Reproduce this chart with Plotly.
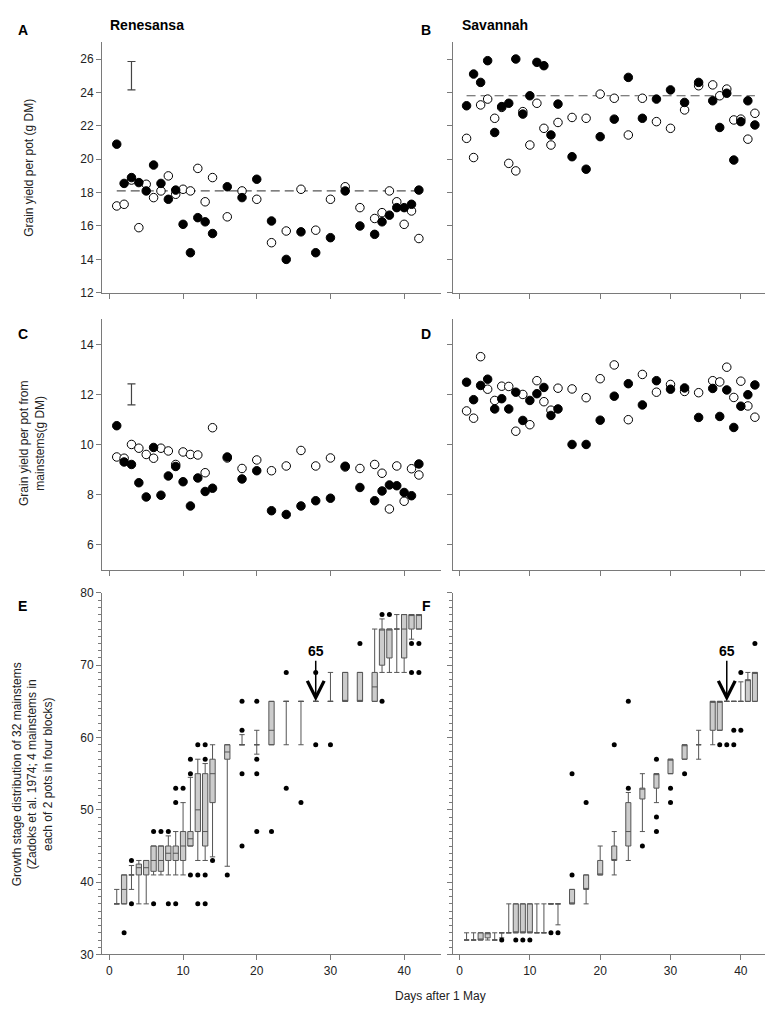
import plotly.graph_objects as go

W, H = 773, 1010
FONT = "Liberation Sans, Arial, sans-serif"

# ---------------- data: panels A-D (grain yield) ----------------
days = [1, 2, 3, 4, 5, 6, 7, 8, 9, 10, 11, 12, 13, 14, 16, 18, 20, 22, 24, 26, 28, 30,
        32, 34, 36, 37, 38, 39, 40, 41, 42]

ren_tot_filled = [20.9, 18.55, 18.9, 18.6, 18.1, 19.65, 18.55, 17.6, 18.15, 16.1, 14.4, 16.5, 16.25,
                  15.55, 18.35, 17.7, 18.8, 16.3, 14.0, 15.65, 14.4, 15.3, 18.1, 16.0, 15.5, 16.25,
                  16.65, 17.1, 17.1, 17.3, 18.15]
ren_tot_open = [17.2, 17.3, 18.75, 15.9, 18.5, 17.7, 18.1, 19.0, 17.9, 18.2, 18.1, 19.45, 17.45,
                18.9, 16.55, 18.1, 17.6, 15.0, 15.7, 18.2, 15.75, 17.6, 18.35, 17.1, 16.45, 16.8,
                18.1, 17.45, 16.1, 16.9, 15.25]
sav_tot_filled = [23.2, 25.1, 24.6, 25.9, 21.6, 23.15, 23.35, 26.0, 22.7, 23.8, 25.8, 25.6, 21.45,
                  23.3, 20.15, 19.4, 21.35, 22.4, 24.9, 22.45, 23.6, 24.15, 23.4, 24.6, 23.5, 21.9,
                  23.95, 19.95, 22.25, 23.5, 22.05]
sav_tot_open = [21.25, 20.1, 23.25, 23.6, 22.45, 23.1, 19.75, 19.3, 22.85, 20.85, 23.35, 21.85, 20.85,
                22.2, 22.5, 22.45, 23.9, 23.65, 21.45, 23.65, 22.25, 21.85, 22.95, 24.4, 24.45, 23.8,
                24.2, 22.35, 22.4, 21.2, 22.75]
ren_ms_filled = [10.75, 9.3, 9.2, 8.47, 7.9, 9.88, 7.97, 8.74, 9.12, 8.51, 7.54, 8.66, 8.12, 8.25,
                 9.5, 8.62, 8.95, 7.35, 7.2, 7.54, 7.75, 7.85, 9.13, 8.28, 7.75, 8.14, 8.38, 8.35,
                 8.08, 7.95, 9.22]
ren_ms_open = [9.5, 9.45, 10.0, 9.85, 9.6, 9.45, 9.85, 9.74, 9.2, 9.7, 9.6, 9.58, 8.87, 10.67, 9.46,
               9.04, 9.38, 8.95, 9.14, 9.76, 9.14, 9.46, 9.1, 9.04, 9.2, 8.85, 7.42, 9.14, 7.73,
               9.03, 8.78]
sav_ms_filled = [12.49, 11.79, 12.36, 12.61, 11.42, 11.83, 11.42, 12.09, 10.96, 11.76, 12.03, 12.28,
                 11.16, 11.42, 10.0, 10.0, 10.97, 11.93, 12.43, 11.58, 12.55, 12.21, 12.26, 11.08,
                 12.24, 11.12, 12.18, 10.68, 11.53, 11.99, 12.38]
sav_ms_open = [11.34, 11.05, 13.51, 12.21, 11.76, 12.33, 12.32, 10.53, 12.0, 10.79, 12.55, 11.71,
               11.37, 12.25, 12.22, 11.87, 12.63, 13.18, 10.99, 12.8, 12.09, 12.4, 12.12, 12.07,
               12.55, 12.5, 13.09, 11.88, 12.53, 11.54, 11.09]

mean_line_days = [1, 42]
ren_tot_mean = 18.1
sav_tot_mean = 23.8
lsd_day = 3
lsd_tot_center, lsd_tot_half = 25.0, 0.85
lsd_ms_center, lsd_ms_half = 12.0, 0.42

# ---------------- data: panels E-F (growth stage box plots) ----------------
e_low = [37, 37, 39, 37, 37, 41, 41, 41, 41, 41, 45, 43, 43, 43.5, 42.2, 59, 57.7, 59, 59, 59,
         65, 65, 65, 65, 65, 69, 69, 69, 69, 73.6, 75]
e_q1 = [37, 37, 41, 41, 41, 41.5, 41.5, 43, 43, 43, 45, 47, 45, 51, 57, 59, 59, 59, 65, 65,
        65, 65, 65, 65, 65, 70, 71, 75, 71, 75, 75]
e_med = [37, 39, 41, 42, 42, 43, 43, 44, 44, 45, 46, 50, 47, 55, 58, 59, 59, 61, 65, 65,
         65, 65, 65, 65, 67, 75, 75, 75, 75, 77, 77]
e_q3 = [37, 41, 41, 42.5, 43, 45, 45, 45, 45, 47, 47, 55, 55, 57, 59, 59, 59, 65, 65, 65,
        65, 65, 69, 69, 69, 75, 75, 75, 77, 77, 77]
e_high = [39, 41, 42.3, 43, 43, 45, 45, 46.4, 47, 51, 54.5, 57, 56.4, 59, 59, 60.4, 61, 65, 65, 65,
          65, 69, 69, 69, 75, 76.4, 75, 77, 77, 77, 77]
e_out_days = [2, 3, 3, 6, 6, 7, 8, 8, 9, 9, 9, 10, 11, 11, 11, 12, 12, 12, 13, 13, 13, 13, 14, 16,
              18, 18, 18, 18, 20, 20, 20, 20, 22, 24, 24, 26, 28, 28, 30, 34, 37, 37, 38, 41, 41,
              42, 42]
e_out_vals = [33, 43, 37, 47, 37, 47, 47, 37, 51, 53, 37, 53, 57, 55, 41, 59, 41, 37, 59, 57, 41, 37,
              43, 41, 65, 61, 55, 45, 65, 57, 55, 47, 47, 69, 53, 51, 69, 59, 59, 73, 77, 65, 77,
              73, 69, 73, 69]

f_low = [32, 32, 32, 32, 32, 32.3, 33, 33, 33, 33, 33, 33, 37, 34.1, 37, 37, 41, 41, 43, 47,
         51, 55, 57, 57, 59, 61, 65, 65, 65, 65, 65]
f_q1 = [32, 32, 32, 32.3, 32, 33, 33, 33, 33, 33, 33, 33, 37, 37, 37, 39, 41, 43, 45, 51.5,
        53, 55, 57, 59, 61, 61, 65, 65, 65, 65, 65]
f_med = [32, 32, 32, 33, 32, 33, 33, 33, 33, 33, 33, 33, 37, 37, 37, 39, 41, 43, 47, 53,
         55, 57, 59, 59, 65, 65, 65, 65, 65, 68, 69]
f_q3 = [32, 32, 33, 33, 32, 33, 33, 37, 37, 37, 33, 33, 37, 37, 39, 41, 43, 45, 51, 53,
        55, 57, 59, 59, 65, 65, 65, 65, 65, 68, 69]
f_high = [33, 33, 33, 33, 33, 33, 37, 37, 37, 37, 37, 37, 37, 37, 39, 41, 45, 47, 52.4, 55,
          55, 57, 59, 61, 65, 65, 65, 65, 67.7, 69, 69]
f_out_days = [6, 8, 9, 10, 13, 14, 16, 16, 18, 22, 24, 24, 26, 28, 28, 28, 30, 30, 32, 37, 38, 39,
              39, 40, 40, 42]
f_out_vals = [32, 32, 32, 32, 33, 33, 41, 55, 51, 59, 53, 65, 45, 57, 49, 47, 53, 51, 55, 59, 59, 59,
              61, 61, 69, 73]

anthesis_stage = 65
ren_anthesis_day = 28
sav_anthesis_day = 38

x_ticks = [0, 10, 20, 30, 40]
tot_ticks = [12, 14, 16, 18, 20, 22, 24, 26]
ms_ticks = [6, 8, 10, 12, 14]
gs_ticks = [30, 40, 50, 60, 70, 80]

# ---------------- layout geometry (pixels) ----------------
def fx(px):
    return px / W


def fy(py):
    return 1 - py / H


LX = [fx(94), fx(433)]
RX = [fx(444.5), fx(768)]
ROW1 = [fy(281.7), fy(27.7)]
ROW2 = [fy(562.3), fy(308.7)]
ROW3 = [fy(952.7), fy(586)]

AX_COL = "#7a7a7a"
TXT = "#222222"

fig = go.Figure()


def pts(xa, ya, yvals, filled):
    return go.Scatter(
        x=days, y=yvals, xaxis=xa, yaxis=ya, mode="markers",
        marker=dict(size=8.5, color="black" if filled else "white",
                    line=dict(color="black", width=1)),
        showlegend=False, hoverinfo="skip", cliponaxis=False)


def mean_line(xa, ya, val):
    return go.Scatter(x=mean_line_days, y=[val, val], xaxis=xa, yaxis=ya, mode="lines",
                      line=dict(color="#555555", width=1.2, dash="9px,5px"),
                      showlegend=False, hoverinfo="skip")


def lsd(xa, ya, c, h):
    return go.Scatter(x=[lsd_day], y=[c], xaxis=xa, yaxis=ya, mode="markers",
                      marker=dict(size=1, color="rgba(0,0,0,0)"),
                      error_y=dict(type="data", array=[h], visible=True, color="#444444",
                                   thickness=1.2, width=4),
                      showlegend=False, hoverinfo="skip")


def box(xa, ya, lo, q1, med, q3, hi):
    return go.Box(x=days, lowerfence=lo, q1=q1, median=med, q3=q3, upperfence=hi,
                  xaxis=xa, yaxis=ya, width=0.72, whiskerwidth=1,
                  fillcolor="#cccccc", line=dict(color="#555555", width=1),
                  boxpoints=False, showlegend=False, hoverinfo="skip")


def outliers(xa, ya, xs, ys):
    return go.Scatter(x=xs, y=ys, xaxis=xa, yaxis=ya, mode="markers",
                      marker=dict(size=5, color="black"),
                      showlegend=False, hoverinfo="skip", cliponaxis=False)


# A
fig.add_trace(mean_line("x", "y", ren_tot_mean))
fig.add_trace(lsd("x", "y", lsd_tot_center, lsd_tot_half))
fig.add_trace(pts("x", "y", ren_tot_open, False))
fig.add_trace(pts("x", "y", ren_tot_filled, True))
# B
fig.add_trace(mean_line("x2", "y2", sav_tot_mean))
fig.add_trace(pts("x2", "y2", sav_tot_open, False))
fig.add_trace(pts("x2", "y2", sav_tot_filled, True))
# C
fig.add_trace(lsd("x3", "y3", lsd_ms_center, lsd_ms_half))
fig.add_trace(pts("x3", "y3", ren_ms_open, False))
fig.add_trace(pts("x3", "y3", ren_ms_filled, True))
# D
fig.add_trace(pts("x4", "y4", sav_ms_open, False))
fig.add_trace(pts("x4", "y4", sav_ms_filled, True))
# E
fig.add_trace(box("x5", "y5", e_low, e_q1, e_med, e_q3, e_high))
fig.add_trace(outliers("x5", "y5", e_out_days, e_out_vals))
# F
fig.add_trace(box("x6", "y6", f_low, f_q1, f_med, f_q3, f_high))
fig.add_trace(outliers("x6", "y6", f_out_days, f_out_vals))

tickfont = dict(family=FONT, size=12, color=TXT)


def xax(domain, anchor, labels):
    return dict(domain=domain, anchor=anchor, range=[-1, 45], tickvals=x_ticks,
                showticklabels=labels, ticks="outside", ticklen=5, tickcolor=AX_COL,
                showline=True, linecolor=AX_COL, linewidth=1, showgrid=False, zeroline=False,
                tickfont=tickfont)


def yax(domain, anchor, rng, tv, labels, minor=False):
    d = dict(domain=domain, anchor=anchor, range=rng, tickvals=tv, showticklabels=labels,
             ticks="outside", ticklen=5, tickcolor=AX_COL, showline=True, linecolor=AX_COL,
             linewidth=1, showgrid=False, zeroline=False, tickfont=tickfont)
    if minor:
        d["minor"] = dict(dtick=1, ticks="outside", ticklen=3, tickcolor=AX_COL, showgrid=False)
    return d


annotations = []


def ann(px, py, text, size=12, bold=False, angle=0, xanchor="center"):
    annotations.append(dict(
        x=fx(px), y=fy(py), xref="paper", yref="paper", showarrow=False,
        text=("<b>%s</b>" % text) if bold else text, textangle=angle, xanchor=xanchor,
        yanchor="middle", font=dict(family=FONT, size=size, color="black" if bold else TXT)))


ann(15, 15, "A", 14, True)
ann(100, 10, "Renesansa", 14, True, xanchor="left")
ann(418, 15, "B", 14, True)
ann(452, 10, "Savannah", 14, True, xanchor="left")
ann(15, 323, "C", 14, True)
ann(418, 323, "D", 14, True)
ann(15, 599, "E", 14, True)
ann(418, 599, "F", 14, True)

ann(21, 155, "Grain yield per pot (g DM)", 12, angle=-90)
ann(24, 435, "Grain yield per pot from<br>mainstems(g DM)", 12, angle=-90)
ann(24, 770, "Growth stage distribution of 32 mainstems<br>(Zadoks et al. 1974; 4 mainstems in<br>each of 2 pots in four blocks)", 12, angle=-90)
ann(432, 995, "Days after 1 May", 12)

for xr, yr, d in (("x5", "y5", ren_anthesis_day), ("x6", "y6", sav_anthesis_day)):
    annotations.append(dict(
        x=d, y=anthesis_stage, xref=xr, yref=yr, ax=0, ay=-50, axref="pixel", ayref="pixel",
        text="<b>%d</b>" % anthesis_stage, showarrow=True, arrowhead=5, arrowsize=2.2,
        arrowwidth=1.5, arrowcolor="black", font=dict(family=FONT, size=14, color="black")))

fig.update_layout(
    width=W, height=H, margin=dict(l=0, r=0, t=0, b=0),
    paper_bgcolor="white", plot_bgcolor="white", boxmode="overlay",
    xaxis=xax(LX, "y", False), yaxis=yax(ROW1, "x", [12, 27], tot_ticks, True),
    xaxis2=xax(RX, "y2", False), yaxis2=yax(ROW1, "x2", [12, 27], tot_ticks, False),
    xaxis3=xax(LX, "y3", False), yaxis3=yax(ROW2, "x3", [5, 15], ms_ticks, True),
    xaxis4=xax(RX, "y4", False), yaxis4=yax(ROW2, "x4", [5, 15], ms_ticks, False),
    xaxis5=xax(LX, "y5", True), yaxis5=yax(ROW3, "x5", [30, 80], gs_ticks, True, True),
    xaxis6=xax(RX, "y6", True), yaxis6=yax(ROW3, "x6", [30, 80], gs_ticks, False, True),
    annotations=annotations,
)

fig.write_html("out.html")
